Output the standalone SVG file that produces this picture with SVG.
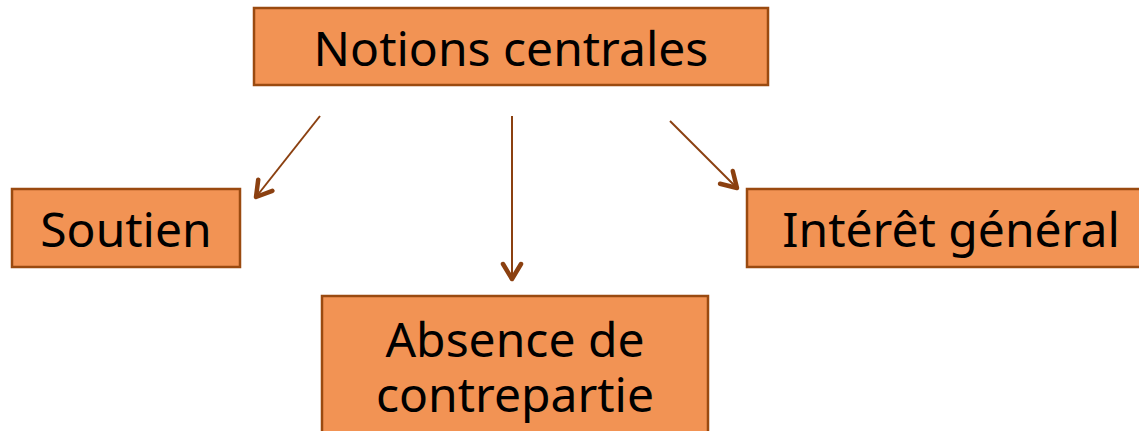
<svg xmlns="http://www.w3.org/2000/svg" width="1139" height="431" viewBox="0 0 1139 431">
<defs>
<style>
.box{fill:#F29354;stroke:#9A4A10;stroke-width:2.5}
.lbl{font-family:"Noto Sans","Open Sans","DejaVu Sans",sans-serif;font-size:48px;fill:#000;text-anchor:middle}
.conn{stroke:#8B4010;stroke-width:2;fill:none}
</style>
<marker id="ah2" viewBox="0 0 24 24" refX="21" refY="12" markerWidth="24" markerHeight="24" markerUnits="userSpaceOnUse" orient="auto">
<path d="M6,3 L21,12 L6,21" fill="none" stroke="#8B4010" stroke-width="4.5" stroke-linecap="round" stroke-linejoin="round"/>
</marker>
</defs>
<rect width="1139" height="431" fill="#fff"/>
<g id="connectors">
<line class="conn" x1="320" y1="116" x2="256" y2="197" marker-end="url(#ah2)"/>
<line class="conn" x1="512" y1="116" x2="512" y2="279" marker-end="url(#ah2)"/>
<line class="conn" x1="670" y1="121" x2="737" y2="188" marker-end="url(#ah2)"/>
</g>
<g id="node-notions">
<rect class="box" x="254" y="8" width="514" height="77"/>
<text class="lbl" x="511" y="66" font-size="51">Notions centrales</text>
</g>
<g id="node-soutien">
<rect class="box" x="12" y="189" width="228" height="78"/>
<text class="lbl" x="126" y="247">Soutien</text>
</g>
<g id="node-interet">
<rect class="box" x="747" y="189" width="400" height="78"/>
<text class="lbl" x="951" y="247">Intérêt général</text>
</g>
<g id="node-absence">
<rect class="box" x="322" y="296" width="386" height="145"/>
<text class="lbl" x="515" y="357">Absence de</text>
<text class="lbl" x="515" y="412">contrepartie</text>
</g>
</svg>
